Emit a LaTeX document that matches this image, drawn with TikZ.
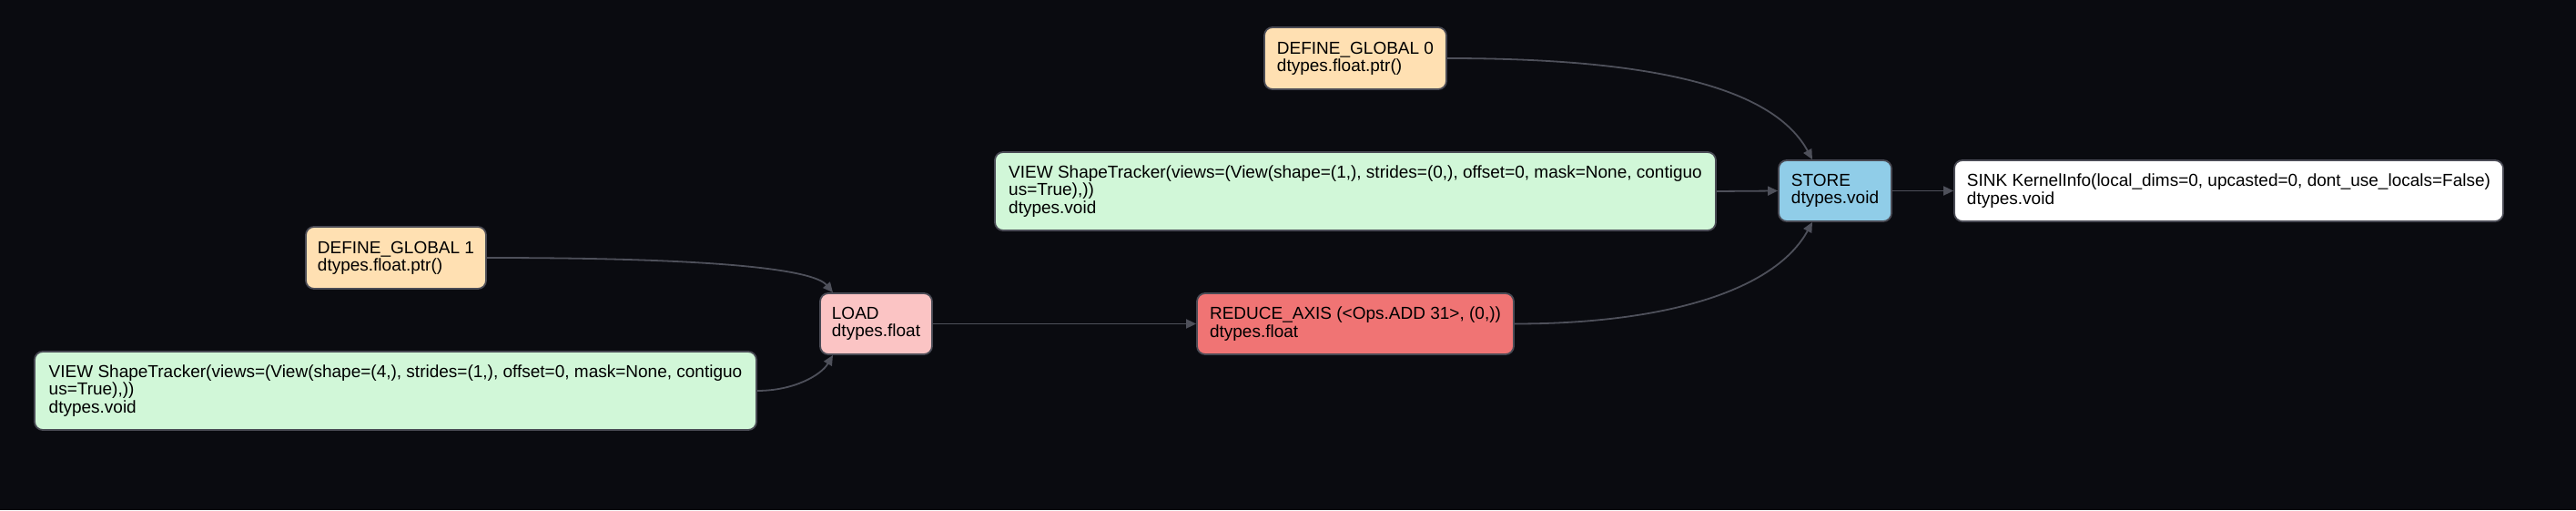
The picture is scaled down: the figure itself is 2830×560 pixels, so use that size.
\documentclass[tikz,border=0pt]{standalone}
\usepackage{fontspec}
\setmainfont{Liberation Sans}
\usetikzlibrary{arrows.meta}
\definecolor{bg}{HTML}{0A0B10}
\definecolor{nodeborder}{HTML}{4A4B55}
\definecolor{edgecol}{HTML}{4E505A}
\definecolor{peach}{HTML}{FFE0B2}
\definecolor{viewgreen}{HTML}{D1F7D8}
\definecolor{loadpink}{HTML}{FBC4C4}
\definecolor{reducered}{HTML}{F07474}
\definecolor{storeblue}{HTML}{90CDE8}
\begin{document}
\begin{tikzpicture}[x=1pt,y=1pt,
  box/.style={draw=nodeborder, line width=1.8pt, rounded corners=9pt, align=left,
    inner sep=2pt, font=\fontsize{19}{19.3}\selectfont, text=black},
  edge/.style={draw=edgecol, line width=1.8pt, -{Triangle[length=11pt,width=10pt]}}]
\fill[bg] (0,0) rectangle (2830,560);
\useasboundingbox (0,0) rectangle (2830,560);

\node[box, fill=peach, minimum width=200pt, minimum height=68pt] (dg0) at (1489,496)
  {DEFINE\_GLOBAL 0\\dtypes.float.ptr()};
\node[box, fill=viewgreen, minimum width=792pt, minimum height=86pt] (view0) at (1489,350)
  {VIEW ShapeTracker(views=(View(shape=(1,), strides=(0,), offset=0, mask=None, contiguo\\us=True),))\\dtypes.void};
\node[box, fill=storeblue, minimum width=124pt, minimum height=67pt] (store) at (2016,350.5)
  {STORE\\dtypes.void};
\node[box, fill=white, minimum width=603pt, minimum height=67pt] (sink) at (2448.5,350.5)
  {SINK KernelInfo(local\_dims=0, upcasted=0, dont\_use\_locals=False)\\dtypes.void};
\node[box, fill=peach, minimum width=198pt, minimum height=68pt] (dg1) at (435,277)
  {DEFINE\_GLOBAL 1\\dtypes.float.ptr()};
\node[box, fill=viewgreen, minimum width=793pt, minimum height=86pt] (view1) at (434.5,131)
  {VIEW ShapeTracker(views=(View(shape=(4,), strides=(1,), offset=0, mask=None, contiguo\\us=True),))\\dtypes.void};
\node[box, fill=loadpink, minimum width=123pt, minimum height=67pt] (load) at (962.5,204.5)
  {LOAD\\dtypes.float};
\node[box, fill=reducered, minimum width=348pt, minimum height=67pt] (reduce) at (1489,204.5)
  {REDUCE\_AXIS (<Ops.ADD 31>, (0,))\\dtypes.float};

\draw[edge] (dg1.east) .. controls (780,277) and (893,265) .. ([xshift=-47.5pt]load.north);
\draw[edge] (view1.east) .. controls (872,131) and (902,148) .. ([xshift=-47.5pt]load.south);
\draw[edge] (load.east) -- (reduce.west);
\draw[edge] (reduce.east) .. controls (1830,204.5) and (1950,241) .. ([xshift=-25pt]store.south);
\draw[edge] (view0.east) -- (store.west);
\draw[edge] (dg0.east) .. controls (1830,496) and (1950,460) .. ([xshift=-25pt]store.north);
\draw[edge] (store.east) -- (sink.west);
\end{tikzpicture}
\end{document}
